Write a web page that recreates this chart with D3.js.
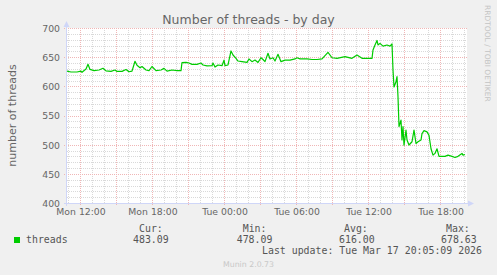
<!DOCTYPE html>
<html>
<head>
<meta charset="utf-8">
<script src="https://cdn.jsdelivr.net/npm/d3@7"></script>
<style>
  body { margin: 0; background: #f0f0f0; }
  svg { display: block; }
  .tick text { font-family: "DejaVu Sans", sans-serif; }
</style>
</head>
<body>
<div id="chart"></div>
<script>
// sample times (5 min steps in the rrd) and thread counts
const times = [
  "Mon 10:55", "Mon 11:15", "Mon 11:45", "Mon 12:05", "Mon 12:10", "Mon 12:30", "Mon 12:40", "Mon 12:50",
  "Mon 13:10", "Mon 13:35", "Mon 13:55", "Mon 14:10", "Mon 14:35", "Mon 14:55", "Mon 15:05", "Mon 15:30",
  "Mon 15:50", "Mon 16:05", "Mon 16:20", "Mon 16:35", "Mon 16:45", "Mon 17:00", "Mon 17:10", "Mon 17:30",
  "Mon 17:45", "Mon 18:00", "Mon 18:20", "Mon 18:45", "Mon 19:00", "Mon 19:15", "Mon 19:40", "Mon 20:05",
  "Mon 20:25", "Mon 20:30", "Mon 20:50", "Mon 21:05", "Mon 21:20", "Mon 21:45", "Mon 22:05", "Mon 22:15",
  "Mon 22:35", "Mon 23:00", "Mon 23:05", "Mon 23:15", "Mon 23:30", "Mon 23:50", "Tue 00:00", "Tue 00:05",
  "Tue 00:20", "Tue 00:35", "Tue 00:45", "Tue 01:00", "Tue 01:10", "Tue 01:30", "Tue 01:55", "Tue 02:05",
  "Tue 02:20", "Tue 02:35", "Tue 02:50", "Tue 03:05", "Tue 03:15", "Tue 03:25", "Tue 03:40", "Tue 03:50",
  "Tue 04:05", "Tue 04:15", "Tue 04:30", "Tue 04:45", "Tue 05:05", "Tue 05:30", "Tue 05:55", "Tue 06:05",
  "Tue 06:20", "Tue 06:55", "Tue 07:20", "Tue 07:45", "Tue 08:10", "Tue 08:25", "Tue 08:40", "Tue 09:00",
  "Tue 09:25", "Tue 10:05", "Tue 10:40", "Tue 11:05", "Tue 11:30", "Tue 12:00", "Tue 12:20", "Tue 12:25",
  "Tue 12:35", "Tue 12:45", "Tue 12:50", "Tue 13:00", "Tue 13:15", "Tue 13:35", "Tue 13:50", "Tue 14:00",
  "Tue 14:05", "Tue 14:10", "Tue 14:20", "Tue 14:25", "Tue 14:30", "Tue 14:35", "Tue 14:45", "Tue 14:50",
  "Tue 14:55", "Tue 15:00", "Tue 15:10", "Tue 15:15", "Tue 15:25", "Tue 15:40", "Tue 15:50", "Tue 16:00",
  "Tue 16:10", "Tue 16:25", "Tue 16:30", "Tue 16:40", "Tue 16:55", "Tue 17:05", "Tue 17:15", "Tue 17:25",
  "Tue 17:35", "Tue 17:45", "Tue 17:55", "Tue 18:10", "Tue 18:25", "Tue 18:40", "Tue 19:00", "Tue 19:15",
  "Tue 19:30", "Tue 19:50", "Tue 19:55", "Tue 20:05"
];
const threads = [
  626, 624.6, 624.6, 626, 624, 629.6, 637.8, 629,
  627, 628, 631, 626.5, 625.6, 628, 625.6, 625.6,
  629, 625, 626, 643, 636, 632, 634, 628,
  627, 634, 627, 628, 630.8, 626, 628, 627,
  627, 640.8, 641, 640, 637.6, 637.6, 640, 636.6,
  635, 635.4, 640, 633, 636.6, 635.4, 645, 635.4,
  636.6, 660.6, 653.7, 648, 643.4, 642.3, 641, 646.9,
  642.3, 645, 641, 649, 646, 642.3, 656.6, 646.9,
  649, 643.4, 655, 642.3, 645, 645, 647, 649,
  647, 647, 646, 646, 647, 652.6, 658.3, 649,
  648, 650.9, 648, 653.7, 648, 648, 648, 662.3,
  670.9, 678.63, 670.9, 673.7, 669, 670.9, 669, 672.6,
  628, 599, 608, 616.6, 582.3, 531, 542, 508,
  531, 499, 525, 508, 499.4, 505, 525, 502,
  505, 508, 519, 524, 522, 516, 493, 482,
  485, 493, 480, 480, 480, 482, 480, 478.09,
  480, 485, 482, 483.09
];

const yTicks = [400, 450, 500, 550, 600, 650, 700];
const xTickLabels = ["Mon 12:00", "Mon 18:00", "Tue 00:00", "Tue 06:00", "Tue 12:00", "Tue 18:00"];
const legendHeads = ["Cur:", "Min:", "Avg:", "Max:"];
const legendValues = ["483.09", "478.09", "616.00", "678.63"];

const width = 497;
const height = 275;
const plotLeft = 67, plotRight = 467, plotTop = 28, plotBottom = 203;

function parseTime(s) {
  const day = s.startsWith("Tue") ? 17 : 16;
  const [hh, mm] = s.slice(4).split(":").map(Number);
  return new Date(2026, 2, day, hh, mm);
}

const data = times.map((t, i) => ({ t: parseTime(t), v: threads[i] }));

const x = d3.scaleTime()
  .domain([new Date(2026, 2, 16, 10, 55), new Date(2026, 2, 17, 20, 15)])
  .range([plotLeft, plotRight]);
const y = d3.scaleLinear().domain([400, 700]).range([plotBottom, plotTop]);

const svg = d3.select("#chart").append("svg")
  .attr("width", width)
  .attr("height", height);

svg.append("rect").attr("width", width).attr("height", height).attr("fill", "#f0f0f0");
svg.append("rect")
  .attr("x", plotLeft).attr("y", plotTop)
  .attr("width", plotRight - plotLeft).attr("height", plotBottom - plotTop)
  .attr("fill", "#ffffff");

const px = v => Math.round(v) + 0.5;

// minor grid: every hour / every 10 threads
const hours = d3.timeHour.range(x.domain()[0], x.domain()[1]);
const minorX = hours.filter(d => d.getHours() % 3 !== 0);
const majorX = hours.filter(d => d.getHours() % 3 === 0);
const minorY = d3.range(410, 700, 10).filter(d => d % 50 !== 0);

const minorCol = "#d9d9d9";
const majorCol = "#f0b6b6";

const grid = svg.append("g");
grid.selectAll("line.vx")
  .data(minorX)
  .enter().append("line")
  .attr("x1", d => px(x(d))).attr("x2", d => px(x(d)))
  .attr("y1", plotTop).attr("y2", plotBottom)
  .attr("stroke", minorCol).attr("stroke-dasharray", "1,1");
grid.selectAll("line.hy")
  .data(minorY)
  .enter().append("line")
  .attr("x1", plotLeft).attr("x2", plotRight)
  .attr("y1", d => px(y(d))).attr("y2", d => px(y(d)))
  .attr("stroke", minorCol).attr("stroke-dasharray", "1,1");

// major grid
grid.selectAll("line.mx")
  .data(majorX)
  .enter().append("line")
  .attr("x1", d => px(x(d))).attr("x2", d => px(x(d)))
  .attr("y1", plotTop).attr("y2", plotBottom + 3)
  .attr("stroke", majorCol).attr("stroke-dasharray", "1,1");
grid.selectAll("line.my")
  .data(yTicks)
  .enter().append("line")
  .attr("x1", plotLeft - 3).attr("x2", plotRight)
  .attr("y1", d => px(y(d))).attr("y2", d => px(y(d)))
  .attr("stroke", majorCol).attr("stroke-dasharray", "1,1");

// axes lines + arrows
const axisCol = "#cfd6f8";
svg.append("line").attr("x1", plotLeft - 0.5).attr("x2", plotLeft - 0.5)
  .attr("y1", plotBottom + 3).attr("y2", plotTop - 5)
  .attr("stroke", axisCol);
svg.append("line").attr("x1", plotLeft - 3).attr("x2", plotRight + 3)
  .attr("y1", plotBottom + 0.5).attr("y2", plotBottom + 0.5)
  .attr("stroke", axisCol);
svg.append("path")
  .attr("d", `M${plotLeft - 3.5},${plotTop - 1}L${plotLeft + 2.5},${plotTop - 1}L${plotLeft - 0.5},${plotTop - 7}Z`)
  .attr("fill", axisCol);
svg.append("path")
  .attr("d", `M${plotRight + 1},${plotBottom - 2.5}L${plotRight + 1},${plotBottom + 3.5}L${plotRight + 7},${plotBottom + 0.5}Z`)
  .attr("fill", axisCol);

// y axis labels
const yAxis = svg.append("g")
  .attr("transform", `translate(${plotLeft - 7},0)`)
  .call(d3.axisLeft(y).tickValues(yTicks).tickSize(0).tickPadding(0).tickFormat(d3.format("d")));
yAxis.select(".domain").remove();
yAxis.selectAll("text")
  .attr("fill", "#666").attr("font-size", "9.3px").attr("dy", "0.36em");

// x axis labels
const xTicks = xTickLabels.map(parseTime);
const xAxis = svg.append("g")
  .attr("transform", `translate(0.5,${plotBottom + 5})`)
  .call(d3.axisBottom(x).tickValues(xTicks).tickSize(0).tickPadding(0)
    .tickFormat((d, i) => xTickLabels[i]));
xAxis.select(".domain").remove();
xAxis.selectAll("text")
  .attr("fill", "#666").attr("font-size", "9.3px").attr("dy", "0.78em");

// data line
const line = d3.line().x(d => x(d.t)).y(d => y(d.v));
svg.append("path")
  .datum(data)
  .attr("d", line)
  .attr("fill", "none")
  .attr("stroke", "#00cc00")
  .attr("stroke-width", 1.2)
  .attr("stroke-linejoin", "round");

// title and labels
svg.append("text")
  .attr("x", 248.5).attr("y", 24)
  .attr("text-anchor", "middle")
  .attr("font-family", "DejaVu Sans, sans-serif")
  .attr("font-size", "12.5px")
  .attr("fill", "#666")
  .text("Number of threads - by day");

svg.append("text")
  .attr("transform", `translate(15.5,${(plotTop + plotBottom) / 2}) rotate(-90)`)
  .attr("text-anchor", "middle")
  .attr("font-family", "DejaVu Sans, sans-serif")
  .attr("font-size", "11px")
  .attr("fill", "#666")
  .text("number of threads");

svg.append("text")
  .attr("transform", "translate(485,5) rotate(90)")
  .attr("font-family", "DejaVu Sans, sans-serif")
  .attr("font-size", "7.5px")
  .attr("fill", "#c4c4c4")
  .text("RRDTOOL / TOBI OETIKER");

// legend
const mono = "DejaVu Sans Mono, monospace";
svg.append("rect")
  .attr("x", 14).attr("y", 237).attr("width", 6).attr("height", 6)
  .attr("fill", "#00cc00");
svg.append("text")
  .attr("x", 26).attr("y", 243)
  .attr("font-family", mono).attr("font-size", "9.9px").attr("fill", "#555")
  .text("threads");

const headX = [139, 242.7, 344, 446];
const valX = [133, 236.7, 339, 441];
svg.selectAll("text.head")
  .data(legendHeads)
  .enter().append("text")
  .attr("x", (d, i) => headX[i]).attr("y", 232)
  .attr("font-family", mono).attr("font-size", "9.9px").attr("fill", "#555")
  .text(d => d);
svg.selectAll("text.val")
  .data(legendValues)
  .enter().append("text")
  .attr("x", (d, i) => valX[i]).attr("y", 243)
  .attr("font-family", mono).attr("font-size", "9.9px").attr("fill", "#555")
  .text(d => d);

svg.append("text")
  .attr("x", 262).attr("y", 254)
  .attr("font-family", mono).attr("font-size", "9.9px").attr("fill", "#555")
  .text("Last update: Tue Mar 17 20:05:09 2026");

svg.append("text")
  .attr("x", 223).attr("y", 267)
  .attr("font-family", "DejaVu Sans, sans-serif")
  .attr("font-size", "7.8px")
  .attr("fill", "#c8c8c8")
  .text("Munin 2.0.73");
</script>
</body>
</html>
